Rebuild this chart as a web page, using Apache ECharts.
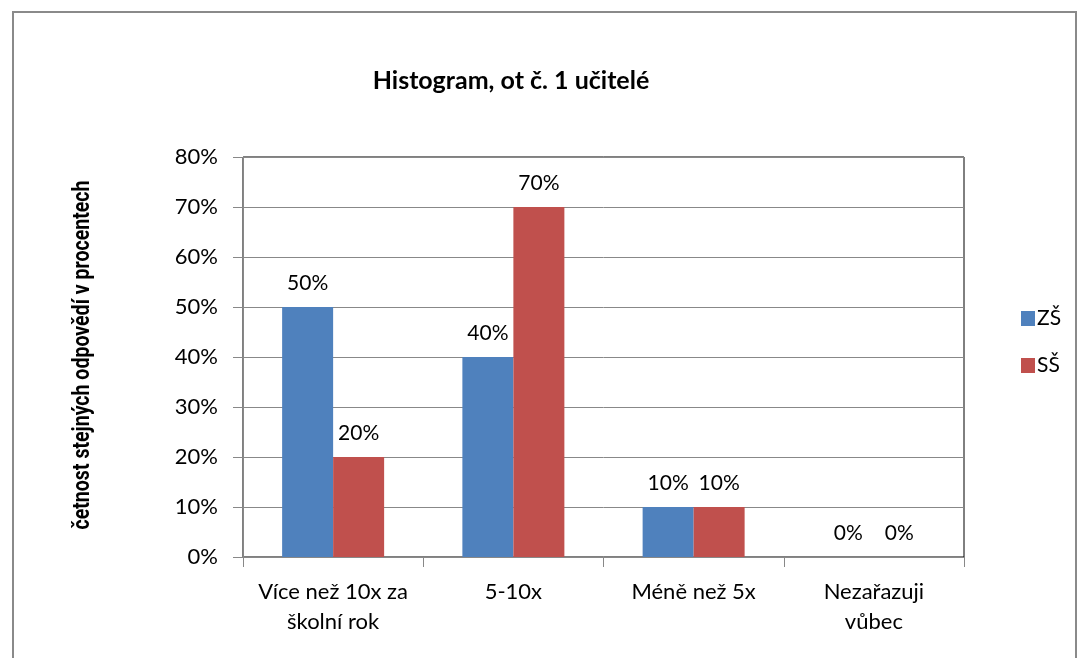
<!DOCTYPE html>
<html><head><meta charset="utf-8">
<script src="https://cdn.jsdelivr.net/npm/echarts@6/dist/echarts.min.js"></script>
<style>html,body{margin:0;padding:0;background:#fff}#c{width:1077px;height:658px}</style>
</head><body><div id="c"></div>
<script>
const categories = ['Více než 10x za\nškolní rok', '5-10x', 'Méně než 5x', 'Nezařazuji\nvůbec'];
const seriesNames = ['ZŠ', 'SŠ'];
const zsValues = [50, 40, 10, 0];
const ssValues = [20, 70, 10, 0];
const yTicks = [0, 10, 20, 30, 40, 50, 60, 70, 80];

const font = "Lato, 'Open Sans', sans-serif";
const chart = echarts.init(document.getElementById('c'));
chart.setOption({
  animation: false,
  backgroundColor: '#fff',
  title: {
    text: 'Histogram, ot č. 1 učitelé',
    left: 506, top: 63, textAlign: 'center',
    textStyle: { fontFamily: font, fontSize: 25, fontWeight: 'bold', color: '#000' }
  },
  graphic: [
    { type: 'rect', shape: { x: 13, y: 12, width: 1063, height: 700 }, style: { fill: 'none', stroke: '#8a8a8a', lineWidth: 2 } },
    { type: 'text', x: 83, y: 355, rotation: Math.PI / 2, scaleX: 0.85,
      style: { text: 'četnost stejných odpovědí v procentech', fill: '#000', align: 'center', verticalAlign: 'middle',
        font: "bold 23px Roboto, 'DejaVu Sans', sans-serif" } }
  ],
  legend: {
    orient: 'vertical', left: 1016, top: 303, itemGap: 26, itemWidth: 14, itemHeight: 15,
    icon: 'rect', data: seriesNames,
    textStyle: { fontFamily: font, fontSize: 21, color: '#000', padding: [0, 0, 0, -3] }
  },
  grid: { left: 243, top: 157, width: 721, height: 400, containLabel: false,
    show: true, borderColor: '#000', borderWidth: 1 },
  xAxis: {
    type: 'category', data: categories,
    axisLine: { lineStyle: { color: '#888' } },
    axisTick: { show: true, length: 10, lineStyle: { color: '#888' } },
    axisLabel: { interval: 0, fontFamily: font, fontSize: 22, color: '#000', margin: 20, lineHeight: 30 }
  },
  yAxis: {
    type: 'value', min: 0, max: 80, interval: 10,
    axisLine: { show: true, lineStyle: { color: '#888' } },
    axisTick: { show: true, length: 10, lineStyle: { color: '#888' } },
    splitLine: { lineStyle: { color: '#888' } },
    axisLabel: { fontFamily: font, fontSize: 22, color: '#000', margin: 25,
      formatter: v => yTicks.includes(v) ? v + '%' : '' }
  },
  series: [
    { name: seriesNames[0], type: 'bar', data: zsValues, barWidth: 51, barGap: '0%',
      itemStyle: { color: '#4F81BD' },
      label: { show: true, position: 'top', distance: 13, formatter: '{c}%', fontFamily: font, fontSize: 21, color: '#000' } },
    { name: seriesNames[1], type: 'bar', data: ssValues, barWidth: 51, barGap: '0%',
      itemStyle: { color: '#C0504D' },
      label: { show: true, position: 'top', distance: 13, formatter: '{c}%', fontFamily: font, fontSize: 21, color: '#000' } }
  ]
});
</script></body></html>
